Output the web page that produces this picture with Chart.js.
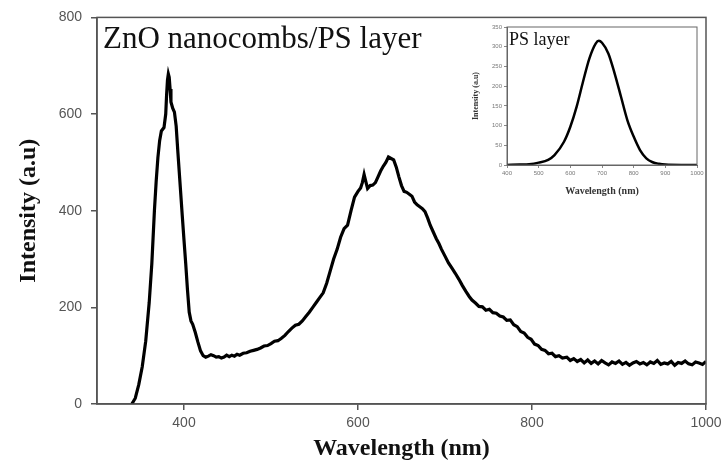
<!DOCTYPE html>
<html>
<head>
<meta charset="utf-8">
<script src="https://cdn.jsdelivr.net/npm/chart.js@4.4.0/dist/chart.umd.min.js"></script>
<style>
  body { margin: 0; background: #fff; }
  #wrap { position: relative; width: 724px; height: 475px; }
  #main { position: absolute; left: 0; top: 0; }
  #inset { position: absolute; left: 465px; top: 18px; }
</style>
</head>
<body>
<div id="wrap">
  <canvas id="main" width="724" height="475"></canvas>
  <canvas id="inset" width="240" height="185"></canvas>
</div>
<script>
// ZnO nanocombs/PS layer spectrum
const wavelength = [
  340, 344, 348, 352, 356, 360, 363, 366, 368, 370, 372, 374, 377, 379, 380, 381, 382, 383, 384, 385,
  387, 389, 391, 393, 396, 398, 400, 402, 404, 406, 408, 410, 413, 416, 419, 422, 425, 428, 431, 434,
  437, 440, 443, 446, 449, 452, 455, 458, 461, 464, 468, 472, 476, 480, 484, 488, 492, 496, 500, 504,
  508, 512, 516, 520, 524, 528, 532, 536, 540, 544, 548, 552, 556, 560, 564, 568, 572, 576, 580, 584,
  588, 592, 596, 600, 603, 605, 607, 609, 611, 614, 617, 620, 623, 626, 629, 632, 635, 638, 641, 644,
  647, 650, 653, 656, 659, 662, 665, 668, 671, 674, 677, 680, 683, 686, 690, 693, 696, 700, 704, 708,
  712, 716, 720, 724, 728, 731, 735, 739, 743, 747, 751, 755, 759, 763, 767, 771, 775, 779, 783, 787,
  791, 795, 799, 803, 807, 811, 815, 819, 823, 827, 831, 835, 840, 844, 848, 852, 856, 860, 864, 868,
  872, 876, 880, 884, 888, 892, 896, 900, 904, 908, 912, 916, 920, 924, 928, 932, 936, 940, 944, 948,
  952, 956, 960, 964, 968, 972, 976, 980, 984, 988, 992, 996, 1000
];
const intensity = [
  0, 12, 40, 77, 130, 210, 290, 400, 460, 510, 545, 565, 572, 600, 640, 670, 683, 676, 652, 625,
  612, 604, 575, 520, 442, 390, 339, 290, 236, 190, 172, 165, 148, 128, 110, 100, 97, 99, 102, 100,
  97, 98, 95, 97, 101, 98, 101, 99, 103, 101, 105, 106, 109, 111, 113, 116, 120, 121, 125, 130,
  131, 136, 142, 150, 157, 163, 165, 172, 181, 190, 200, 210, 220, 230, 250, 275, 300, 320, 345, 363,
  370, 400, 428, 440, 447, 458, 475, 460, 446, 452, 453, 458, 470, 482, 492, 500, 511, 508, 505, 490,
  470, 452, 440, 438, 434, 430, 418, 412, 408, 404, 398, 385, 370, 358, 342, 332, 320, 306, 292, 281,
  270, 258, 245, 233, 222, 215, 209, 202, 201, 194, 196, 189, 188, 182, 180, 173, 174, 164, 160, 150,
  147, 138, 134, 124, 121, 113, 111, 104, 105, 98, 100, 95, 97, 90, 94, 88, 92, 85, 91, 84,
  89, 83, 90, 85, 81, 87, 84, 89, 82, 86, 80, 85, 88, 83, 86, 81, 87, 84, 90, 82,
  85, 83, 88, 80, 86, 84, 89, 83, 81, 87, 85, 82, 88
];
const xTicks = [400, 600, 800, 1000];
const yTicks = [0, 200, 400, 600, 800];

// inset: PS layer
const psWavelength = [400, 440, 470, 500, 530, 550, 580, 600, 620, 640, 660, 680, 690, 700, 720, 740, 760, 780, 800, 820, 840, 860, 880, 900, 950, 1000];
const psIntensity = [0, 1, 2, 6, 13, 25, 59, 97, 148, 211, 270, 308, 315, 310, 283, 232, 173, 114, 72, 38, 17, 7, 3, 1, 0, 0];
const psXTicks = [400, 500, 600, 700, 800, 900, 1000];
const psYTicks = [0, 50, 100, 150, 200, 250, 300, 350];

const toPoints = (xs, ys) => xs.map((x, i) => ({ x: x, y: ys[i] }));
const plain = v => String(v);

const framePlugin = {
  id: 'frame',
  afterDraw(chart, args, opts) {
    const a = chart.chartArea;
    const ctx = chart.ctx;
    ctx.save();
    ctx.strokeStyle = opts.color;
    ctx.lineWidth = opts.width;
    ctx.strokeRect(a.left, a.top, a.right - a.left, a.bottom - a.top);
    if (opts.label) {
      ctx.fillStyle = '#111';
      ctx.font = opts.font;
      ctx.textBaseline = 'alphabetic';
      ctx.fillText(opts.label, a.left + opts.dx, a.top + opts.dy);
    }
    ctx.restore();
  }
};

new Chart(document.getElementById('main'), {
  type: 'scatter',
  data: {
    datasets: [{
      data: toPoints(wavelength, intensity),
      showLine: true,
      borderColor: '#000',
      borderWidth: 3.2,
      pointRadius: 0,
      tension: 0
    }]
  },
  plugins: [framePlugin],
  options: {
    responsive: false,
    animation: false,
    devicePixelRatio: 1,
    layout: { padding: { top: 16, right: 18, left: 0, bottom: 0 } },
    plugins: {
      legend: { display: false },
      tooltip: { enabled: false },
      frame: { color: '#555', width: 1.5, label: 'ZnO nanocombs/PS layer', font: '31px "Liberation Serif"', dx: 6, dy: 31 }
    },
    scales: {
      x: {
        type: 'linear',
        min: 300,
        max: 1000,
        afterBuildTicks: s => { s.ticks = xTicks.map(v => ({ value: v })); },
        afterFit: s => { s.height = 71; s.paddingRight = 0; s.paddingLeft = 0; },
        ticks: { font: { family: 'Liberation Sans', size: 14 }, color: '#555', padding: 5, callback: plain },
        grid: { drawOnChartArea: false, tickLength: 6, color: '#555', lineWidth: 1.5 },
        border: { color: '#555', width: 1.5 },
        title: {
          display: true,
          text: 'Wavelength (nm)',
          font: { family: 'Liberation Serif', size: 24, weight: 'bold' },
          color: '#111',
          padding: { top: 0, bottom: 12 }
        }
      },
      y: {
        min: 0,
        max: 800,
        afterBuildTicks: s => { s.ticks = yTicks.map(v => ({ value: v })); },
        afterFit: s => { s.width = 97; },
        ticks: { font: { family: 'Liberation Sans', size: 14 }, color: '#555', padding: 9, callback: plain },
        grid: { drawOnChartArea: false, tickLength: 6, color: '#555', lineWidth: 1.5 },
        border: { color: '#555', width: 1.5 },
        title: {
          display: true,
          text: 'Intensity (a.u)',
          font: { family: 'Liberation Serif', size: 24, weight: 'bold' },
          color: '#111',
          padding: { top: 14, bottom: 0 }
        }
      }
    }
  }
});

new Chart(document.getElementById('inset'), {
  type: 'scatter',
  data: {
    datasets: [{
      data: toPoints(psWavelength, psIntensity),
      showLine: true,
      borderColor: '#000',
      borderWidth: 2.5,
      pointRadius: 0,
      cubicInterpolationMode: 'monotone'
    }]
  },
  plugins: [framePlugin],
  options: {
    responsive: false,
    animation: false,
    devicePixelRatio: 1,
    layout: { padding: { top: 9, right: 8, left: 0, bottom: 0 } },
    plugins: {
      legend: { display: false },
      tooltip: { enabled: false },
      frame: { color: '#666', width: 1, label: 'PS layer', font: '18px "Liberation Serif"', dx: 2, dy: 18 }
    },
    scales: {
      x: {
        type: 'linear',
        min: 400,
        max: 1000,
        afterBuildTicks: s => { s.ticks = psXTicks.map(v => ({ value: v })); },
        afterFit: s => { s.height = 38; s.paddingRight = 0; },
        ticks: { font: { family: 'Liberation Sans', size: 6 }, color: '#777', padding: 2, maxRotation: 0, callback: plain },
        grid: { drawOnChartArea: false, tickLength: 3, color: '#888', lineWidth: 1 },
        border: { color: '#666', width: 1 },
        title: {
          display: true,
          text: 'Wavelength (nm)',
          font: { family: 'Liberation Serif', size: 10, weight: 'bold' },
          color: '#333',
          padding: { top: 0, bottom: 6 }
        }
      },
      y: {
        min: 0,
        max: 350,
        afterBuildTicks: s => { s.ticks = psYTicks.map(v => ({ value: v })); },
        afterFit: s => { s.width = 42; },
        ticks: { font: { family: 'Liberation Sans', size: 6 }, color: '#777', padding: 2, callback: plain },
        grid: { drawOnChartArea: false, tickLength: 3, color: '#888', lineWidth: 1 },
        border: { color: '#666', width: 1 },
        title: {
          display: true,
          text: 'Intensity (a.u)',
          font: { family: 'Liberation Serif', size: 8, weight: 'bold' },
          color: '#333',
          padding: { top: 6, bottom: 0 }
        }
      }
    }
  }
});
</script>
</body>
</html>
